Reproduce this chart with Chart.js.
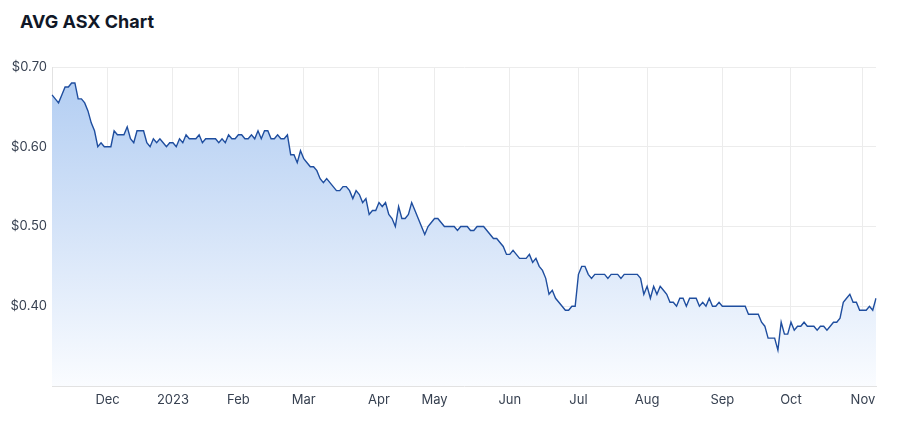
<!DOCTYPE html>
<html>
<head>
<meta charset="utf-8">
<title>AVG ASX Chart</title>
<script src="https://cdn.jsdelivr.net/npm/chart.js@4/dist/chart.umd.min.js"></script>
<style>
  html, body { margin: 0; padding: 0; background: #fff; }
  #wrap { position: relative; width: 899px; height: 423px; }
  #title {
    position: absolute; left: 20px; top: 11px; margin: 0;
    font: bold 18px Inter, "DejaVu Sans", sans-serif; color: #111827;
  }
  canvas { position: absolute; left: 0; top: 0; }
</style>
</head>
<body>
<div id="wrap">
  <h1 id="title">AVG ASX Chart</h1>
  <canvas id="chart" width="899" height="423"></canvas>
</div>
<script>
// trading days from 8 Nov 2022 to 7 Nov 2023, ASX holidays skipped
var startDate = '2022-11-08'
var endDate = '2023-11-07'
var asxHolidays = ['2022-12-26', '2022-12-27', '2023-01-02', '2023-01-26',
    '2023-04-07', '2023-04-10', '2023-04-25', '2023-06-12']
var monthNames = ['Jan', 'Feb', 'Mar', 'Apr', 'May', 'Jun', 'Jul', 'Aug', 'Sep', 'Oct', 'Nov', 'Dec']
var yTicks = [0.40, 0.50, 0.60, 0.70]

// closing prices, one per trading day
var prices = [
    0.665, 0.66, 0.655, 0.665, 0.675, 0.675, 0.68, 0.68, 0.66, 0.66,
    0.655, 0.645, 0.63, 0.62, 0.60, 0.605, 0.60, 0.60, 0.60, 0.62,
    0.615, 0.615, 0.615, 0.625, 0.61, 0.605, 0.62, 0.62, 0.62, 0.605,
    0.60, 0.61, 0.605, 0.61, 0.605, 0.60, 0.605, 0.605, 0.60, 0.61,
    0.605, 0.615, 0.61, 0.61, 0.61, 0.615, 0.605, 0.61, 0.61, 0.61,
    0.61, 0.605, 0.61, 0.605, 0.615, 0.61, 0.61, 0.615, 0.615, 0.61,
    0.61, 0.615, 0.61, 0.62, 0.61, 0.62, 0.62, 0.61, 0.61, 0.615,
    0.61, 0.61, 0.615, 0.59, 0.59, 0.58, 0.595, 0.585, 0.58, 0.575,
    0.575, 0.57, 0.56, 0.555, 0.56, 0.555, 0.55, 0.545, 0.545, 0.55,
    0.55, 0.545, 0.535, 0.545, 0.54, 0.53, 0.535, 0.515, 0.52, 0.52,
    0.53, 0.525, 0.53, 0.515, 0.51, 0.50, 0.525, 0.51, 0.51, 0.515,
    0.53, 0.52, 0.51, 0.50, 0.49, 0.50, 0.505, 0.51, 0.51, 0.505,
    0.50, 0.50, 0.50, 0.50, 0.495, 0.50, 0.50, 0.50, 0.495, 0.495,
    0.50, 0.50, 0.50, 0.495, 0.49, 0.485, 0.485, 0.48, 0.475, 0.465,
    0.465, 0.47, 0.465, 0.46, 0.46, 0.46, 0.465, 0.455, 0.46, 0.45,
    0.445, 0.435, 0.415, 0.42, 0.41, 0.405, 0.40, 0.395, 0.395, 0.40,
    0.40, 0.44, 0.45, 0.45, 0.44, 0.435, 0.44, 0.44, 0.44, 0.44,
    0.435, 0.44, 0.44, 0.44, 0.435, 0.44, 0.44, 0.44, 0.44, 0.44,
    0.435, 0.415, 0.425, 0.41, 0.425, 0.415, 0.425, 0.42, 0.415, 0.405,
    0.405, 0.40, 0.41, 0.41, 0.40, 0.41, 0.41, 0.41, 0.40, 0.405,
    0.40, 0.41, 0.40, 0.40, 0.405, 0.40, 0.40, 0.40, 0.40, 0.40,
    0.40, 0.40, 0.40, 0.39, 0.39, 0.39, 0.39, 0.38, 0.375, 0.36,
    0.36, 0.36, 0.345, 0.38, 0.365, 0.365, 0.38, 0.37, 0.375, 0.375,
    0.38, 0.375, 0.375, 0.375, 0.37, 0.375, 0.375, 0.37, 0.375, 0.38,
    0.38, 0.385, 0.405, 0.41, 0.415, 0.405, 0.405, 0.395, 0.395, 0.395,
    0.40, 0.395, 0.41
]

function tradingDays() {
    var out = []
    var d = new Date(startDate + 'T00:00:00Z')
    var end = new Date(endDate + 'T00:00:00Z')
    while (d <= end) {
        var s = d.toISOString().slice(0, 10)
        var wd = d.getUTCDay()
        if (wd !== 0 && wd !== 6 && asxHolidays.indexOf(s) < 0) {
            out.push(s)
        }
        d.setUTCDate(d.getUTCDate() + 1)
    }
    return out
}

var dates = tradingDays()

function fillGradient(context) {
    var area = context.chart.chartArea
    if (!area) return 'rgba(180,206,242,0.8)'
    var g = context.chart.ctx.createLinearGradient(0, area.top, 0, area.bottom)
    g.addColorStop(0, 'rgb(176,204,242)')
    g.addColorStop(0.5, 'rgb(212,227,248)')
    g.addColorStop(1, 'rgb(250,252,255)')
    return g
}

var gridColor = '#ececec'
var tickFont = { family: 'Inter, "DejaVu Sans", sans-serif', size: 13 }

new Chart(document.getElementById('chart'), {
    type: 'line',
    data: {
        labels: dates,
        datasets: [{
            data: prices,
            borderColor: '#1f4e9f',
            borderWidth: 1.4,
            backgroundColor: fillGradient,
            fill: 'start',
            pointRadius: 0,
            tension: 0
        }]
    },
    options: {
        responsive: false,
        animation: false,
        layout: { padding: { top: 67, right: 23, bottom: 0, left: 0 } },
        plugins: {
            legend: { display: false },
            tooltip: { enabled: false }
        },
        scales: {
            x: {
                type: 'category',
                afterFit: function (scale) { scale.height = 37 },
                grid: { color: gridColor, drawTicks: false },
                border: { color: '#e2e2e2' },
                ticks: {
                    autoSkip: false,
                    maxRotation: 0,
                    padding: 6,
                    color: '#374151',
                    font: tickFont,
                    callback: function (value) {
                        var d = dates[value]
                        var prev = dates[value - 1]
                        if (!prev || d.slice(5, 7) === prev.slice(5, 7)) return null
                        var m = +d.slice(5, 7)
                        return m === 1 ? d.slice(0, 4) : monthNames[m - 1]
                    }
                }
            },
            y: {
                min: 0.30,
                max: 0.70,
                afterFit: function (scale) { scale.width = 52 },
                afterBuildTicks: function (scale) {
                    scale.ticks = [{ value: 0.30 }].concat(yTicks.map(function (v) { return { value: v } }))
                },
                grid: { color: gridColor, drawTicks: false },
                border: { color: '#e2e2e2' },
                ticks: {
                    padding: 5,
                    color: '#374151',
                    font: tickFont,
                    callback: function (v) {
                        if (v < 0.35) return null
                        return '$' + v.toFixed(2)
                    }
                }
            }
        }
    }
})
</script>
</body>
</html>
